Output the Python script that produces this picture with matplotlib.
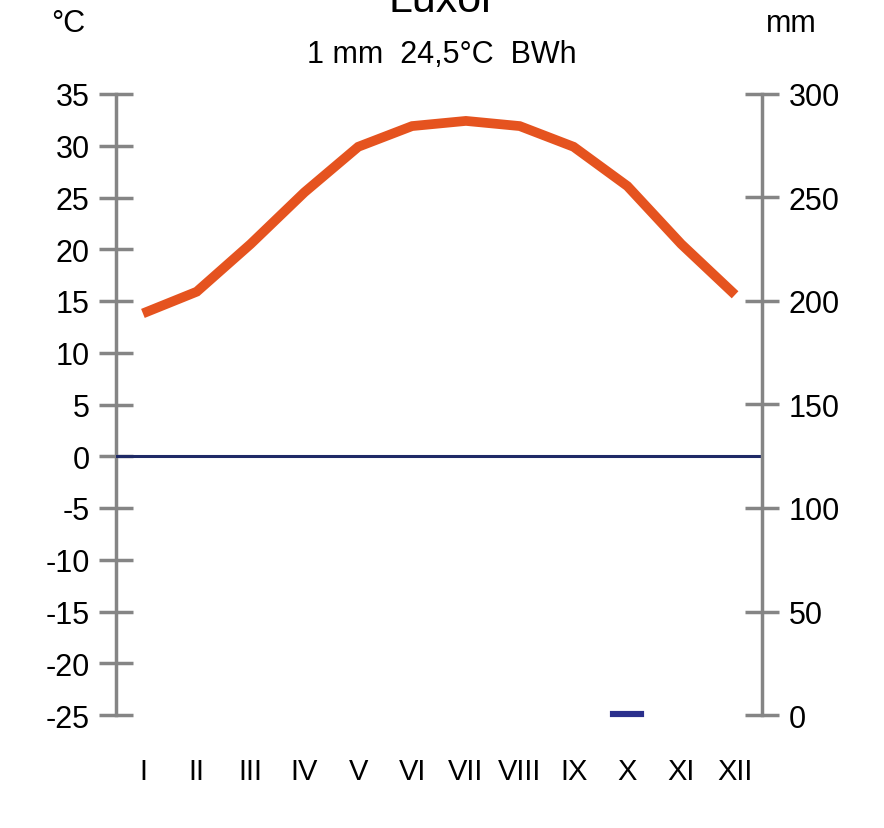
import matplotlib
matplotlib.use("Agg")
import matplotlib.pyplot as plt
import numpy as np

plt.rcParams['font.family'] = ['Liberation Sans', 'DejaVu Sans']
plt.rcParams['axes.unicode_minus'] = False

months = ["I", "II", "III", "IV", "V", "VI", "VII", "VIII", "IX", "X", "XI", "XII"]
temperature = [13.8, 15.9, 20.5, 25.5, 29.9, 31.9, 32.4, 31.9, 29.9, 26.1, 20.5, 15.6]
precipitation = [0, 0, 0, 0, 0, 0, 0, 0, 0, 1, 0, 0]
temp_ticks = [-25, -20, -15, -10, -5, 0, 5, 10, 15, 20, 25, 30, 35]
precip_ticks = [0, 50, 100, 150, 200, 250, 300]
title = "Luxor"
subtitle = "1 mm  24,5°C  BWh"

W, H = 884, 829
fig = plt.figure(figsize=(W / 100, H / 100), dpi=100)
ax = fig.add_axes([116 / W, 1 - 716 / H, (762 - 116) / W, (716 - 95) / H])
ax2 = ax.twinx()

x = np.arange(len(months))
grey = "#858585"
navy = "#1f2a66"

# precipitation (right axis)
lws = [3 if p > 0 else 0 for p in precipitation]
ax2.bar(x, precipitation, width=0.56, color="#2a2f8c", edgecolor="#2a2f8c",
        linewidth=lws, zorder=2, clip_on=False)
ax2.set_ylim(0, 300)
ax2.set_yticks(precip_ticks)

# temperature (left axis)
ax.axhline(0, color=navy, lw=2.2, zorder=2.7)
ax.plot(x, temperature, color="#e5531f", lw=7, solid_joinstyle="miter", solid_capstyle="butt", zorder=3)
ax.set_ylim(-25, 35)
ax.set_yticks(temp_ticks)
ax.set_xlim(-0.5, 11.5)
ax.set_xticks(x)
ax.set_xticklabels(months)

for a in (ax, ax2):
    for s in ("top", "bottom"):
        a.spines[s].set_visible(False)
    a.patch.set_visible(False)
ax.spines["right"].set_visible(False)
ax2.spines["left"].set_visible(False)
ax.spines["left"].set_color(grey)
ax.spines["left"].set_linewidth(2.5)
ax2.spines["right"].set_color(grey)
ax2.spines["right"].set_linewidth(2.5)

ax.tick_params(axis="y", direction="inout", length=24, width=2.5, color=grey,
               labelsize=22, pad=7)
ax2.tick_params(axis="y", direction="inout", length=24, width=2.5, color=grey,
                labelsize=22, pad=7)
ax.tick_params(axis="x", length=0, labelsize=21, pad=30)

fig.text(0.5, 1 - 12 / H, title, ha="center", va="baseline", fontsize=31)
fig.text(0.5, 1 - 63 / H, subtitle, ha="center", va="baseline", fontsize=22)
fig.text(68 / W, 1 - 32 / H, "°C", ha="center", va="baseline", fontsize=22)
fig.text(791 / W, 1 - 32 / H, "mm", ha="center", va="baseline", fontsize=22)

fig.savefig("out.png", dpi=100)
